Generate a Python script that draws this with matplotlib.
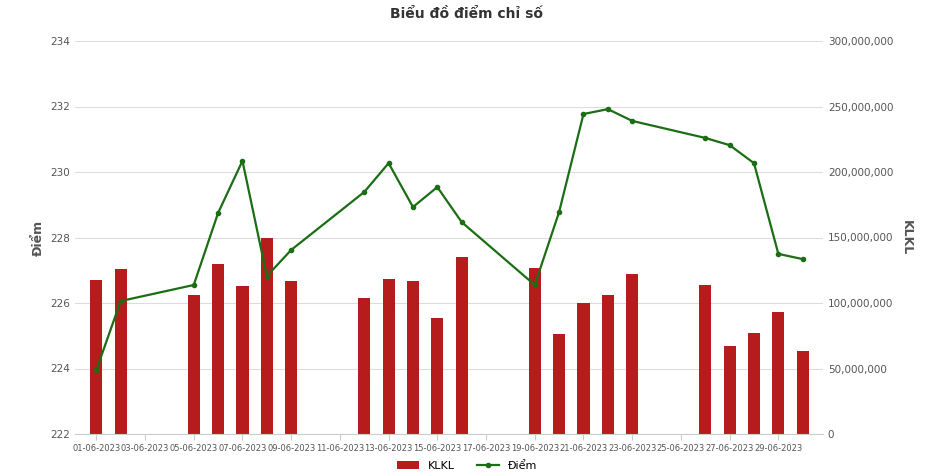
import matplotlib.pyplot as plt
import matplotlib.dates as mdates
import pandas as pd
from matplotlib.ticker import FuncFormatter

days = [1, 2, 5, 6, 7, 8, 9, 12, 13, 14, 15, 16, 19, 20, 21, 22, 23, 26, 27, 28, 29, 30]
klkl = [117.6, 126, 106, 130, 113, 150, 117, 104, 118, 117, 88.5, 135,
        127, 76, 100, 106, 122, 114, 67, 77, 93, 63]  # millions
diem = [223.95, 226.06, 226.55, 228.75, 230.34, 226.82, 227.62, 229.39, 230.27, 228.93,
        229.54, 228.47, 226.55, 228.78, 231.77, 231.92, 231.56, 231.04, 230.82, 230.27,
        227.5, 227.34]

dates = pd.to_datetime([f"2023-06-{d:02d}" for d in days])

fig = plt.figure(figsize=(9.34, 4.76), dpi=100)
ax2 = fig.add_axes([75 / 934, 1 - 434 / 476, 748 / 934, 393 / 476])
ax = ax2.twinx()
ax2.yaxis.tick_right()
ax2.yaxis.set_label_position("right")
ax.yaxis.tick_left()
ax.yaxis.set_label_position("left")

bars = ax2.bar(dates, [v * 1e6 for v in klkl], width=0.5, color="#b71c1c", label="KLKL", zorder=2)
ax2.set_ylim(0, 300e6)
ax2.yaxis.set_major_formatter(FuncFormatter(lambda v, p: f"{int(v):,}"))
ax2.set_ylabel("KLKL", rotation=270, labelpad=14, color="#555555", fontweight="bold", fontsize=9)

line, = ax.plot(dates, diem, color="#1b6e14", marker="o", markersize=3, linewidth=1.6, label="Điểm", zorder=3)
ax.set_ylim(222, 234)
ax.set_yticks(range(222, 235, 2))
ax.set_ylabel("Điểm", color="#555555", fontweight="bold", fontsize=9)

ax2.set_xlim(pd.Timestamp("2023-05-31 03:00"), pd.Timestamp("2023-06-30 20:00"))
ax2.set_xticks(pd.date_range("2023-06-01", "2023-06-29", freq="2D"))
ax2.xaxis.set_major_formatter(mdates.DateFormatter("%d-%m-%Y"))

for a in (ax, ax2):
    a.tick_params(labelsize=7.5, colors="#555555", length=0)
    for s in a.spines.values():
        s.set_visible(False)
ax2.spines["bottom"].set_visible(True)
ax2.spines["bottom"].set_color("#cccccc")
ax2.tick_params(axis="x", length=4, color="#cccccc", labelsize=6)
ax2.grid(axis="y", color="#dddddd", linewidth=0.8, zorder=0)

fig.suptitle("Biểu đồ điểm chỉ số", y=0.985, fontsize=10, fontweight="bold", color="#333333")
fig.legend([bars, line], ["KLKL", "Điểm"], loc="lower center", ncol=2, frameon=False,
           fontsize=8, bbox_to_anchor=(0.5, -0.01))
fig.savefig("out.png")
